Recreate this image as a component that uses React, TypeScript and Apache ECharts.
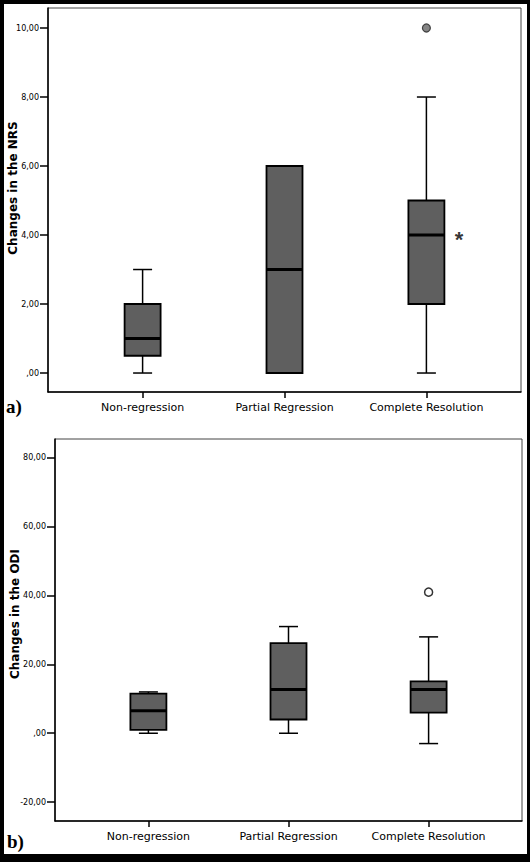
import React, { useEffect, useRef } from "react";
import * as echarts from "echarts";

const categories = ["Non-regression", "Partial Regression", "Complete Resolution"];
// [min, Q1, median, Q3, max]
const nrsBoxes = [
  [0, 0.5, 1, 2, 3],
  [0, 0, 3, 6, 6],
  [0, 2, 4, 5, 8],
];
const nrsOutliers = [[3, 10]];
const nrsMarker = [[3.23, 4]];
const odiBoxes = [
  [0, 1, 6.5, 11.5, 12],
  [0, 4, 12.7, 26.2, 31],
  [-3, 6, 12.7, 15.1, 28],
];
const odiOutliers = [[3, 41]];
const nrsTicks = [0, 2, 4, 6, 8, 10];
const odiTicks = [-20, 0, 20, 40, 60, 80];
const catTicks = [1, 2, 3];

const fmt = (v: number) => {
  const s = v.toFixed(2).replace(".", ",");
  return s.startsWith("0,") ? s.slice(1) : s;
};

const boxRender = (params: any, api: any) => {
  const x = api.value(0);
  const p = (v: number) => api.coord([x, v]);
  const [cx, yMin] = p(api.value(1));
  const yQ1 = p(api.value(2))[1];
  const yMed = p(api.value(3))[1];
  const yQ3 = p(api.value(4))[1];
  const yMax = p(api.value(5))[1];
  const bw = 36;
  const cw = 19;
  const ls = { stroke: "#000", lineWidth: 1.5 };
  return {
    type: "group",
    children: [
      { type: "line", shape: { x1: cx, y1: yMax, x2: cx, y2: yQ3 }, style: ls },
      { type: "line", shape: { x1: cx, y1: yQ1, x2: cx, y2: yMin }, style: ls },
      { type: "line", shape: { x1: cx - cw / 2, y1: yMax, x2: cx + cw / 2, y2: yMax }, style: ls },
      { type: "line", shape: { x1: cx - cw / 2, y1: yMin, x2: cx + cw / 2, y2: yMin }, style: ls },
      {
        type: "rect",
        shape: { x: cx - bw / 2, y: yQ3, width: bw, height: yQ1 - yQ3 },
        style: { fill: "#5f5f5f", stroke: "#000", lineWidth: 1.8 },
      },
      { type: "line", shape: { x1: cx - bw / 2, y1: yMed, x2: cx + bw / 2, y2: yMed }, style: { stroke: "#000", lineWidth: 3 } },
    ],
  };
};

const toData = (boxes: number[][]) => boxes.map((b, i) => [i + 1, ...b]);

export default function App() {
  const ref = useRef<HTMLDivElement>(null);
  useEffect(() => {
    const chart = echarts.init(ref.current!, null, { renderer: "svg" });
    const xAxisBase = (gridIndex: number) => ({
      type: "value",
      gridIndex,
      min: 1 / 3,
      max: 11 / 3,
      splitLine: { show: false },
      axisLine: { show: true, onZero: false, lineStyle: { color: "#000", width: 1.5 } },
      axisTick: { show: true, customValues: catTicks, length: 6, lineStyle: { color: "#000", width: 1.5 } },
      axisLabel: {
        customValues: catTicks,
        formatter: (v: number) => categories[Math.round(v) - 1] || "",
        fontFamily: "DejaVu Sans",
        fontSize: 11,
        color: "#000",
        margin: 10,
      },
    });
    const yAxisBase = (gridIndex: number, min: number, max: number, ticks: number[], name: string, gap: number, pad: number) => ({
      type: "value",
      gridIndex,
      min,
      max,
      name,
      nameLocation: "middle",
      nameGap: gap,
      nameMoveOverlap: false,
      nameTextStyle: { fontFamily: "DejaVu Sans", fontWeight: "bold", fontSize: 12, color: "#000", padding: [0, 0, 0, pad] },
      splitLine: { show: false },
      axisLine: { show: true, onZero: false, lineStyle: { color: "#000", width: 1.5 } },
      axisTick: { show: true, customValues: ticks, length: 8, lineStyle: { color: "#000", width: 1.5 } },
      axisLabel: {
        customValues: ticks,
        formatter: fmt,
        fontFamily: "DejaVu Sans",
        fontSize: 8,
        color: "#000",
        margin: 9,
      },
    });
    chart.setOption({
      animation: false,
      backgroundColor: "#000",
      graphic: [
        { type: "rect", shape: { x: 4, y: 4, width: 523, height: 850 }, style: { fill: "#fff" }, z: -10 },
        { type: "text", left: 6, top: 397, style: { text: "a)", font: "bold 19px 'Liberation Serif'", fill: "#000" } },
        { type: "text", left: 7, top: 832, style: { text: "b)", font: "bold 19px 'Liberation Serif'", fill: "#000" } },
      ],
      grid: [
        { left: 48, top: 8, width: 473, height: 384, show: true, borderColor: "#444", borderWidth: 1, backgroundColor: "#fff", outerBoundsMode: "none", containLabel: false },
        { left: 55, top: 439, width: 467, height: 382, show: true, borderColor: "#444", borderWidth: 1, backgroundColor: "#fff", outerBoundsMode: "none", containLabel: false },
      ],
      xAxis: [xAxisBase(0), xAxisBase(1)],
      yAxis: [
        yAxisBase(0, -0.55, 10.58, nrsTicks, "Changes in the NRS", 29, 24),
        yAxisBase(1, -25.5, 85.5, odiTicks, "Changes in the ODI", 34, 32),
      ],
      series: [
        {
          type: "custom",
          xAxisIndex: 0,
          yAxisIndex: 0,
          renderItem: boxRender,
          encode: { x: 0, y: [1, 2, 3, 4, 5] },
          data: toData(nrsBoxes),
        },
        {
          type: "scatter",
          xAxisIndex: 0,
          yAxisIndex: 0,
          symbol: "circle",
          symbolSize: 8,
          itemStyle: { color: "#666", borderColor: "#222", borderWidth: 1.2 },
          data: nrsOutliers,
        },
        {
          type: "scatter",
          xAxisIndex: 0,
          yAxisIndex: 0,
          symbolSize: 0,
          label: {
            show: true,
            position: "inside",
            formatter: "*",
            fontFamily: "Liberation Sans",
            fontWeight: "bold",
            fontSize: 22,
            color: "#000",
            offset: [0, 4],
          },
          data: nrsMarker,
        },
        {
          type: "custom",
          xAxisIndex: 1,
          yAxisIndex: 1,
          renderItem: boxRender,
          encode: { x: 0, y: [1, 2, 3, 4, 5] },
          data: toData(odiBoxes),
        },
        {
          type: "scatter",
          xAxisIndex: 1,
          yAxisIndex: 1,
          symbol: "circle",
          symbolSize: 8,
          itemStyle: { color: "#fff", borderColor: "#000", borderWidth: 1.5 },
          data: odiOutliers,
        },
      ],
    });
    return () => chart.dispose();
  }, []);
  return <div ref={ref} style={{ position: "fixed", left: 0, top: 0, width: 530, height: 862 }} />;
}
